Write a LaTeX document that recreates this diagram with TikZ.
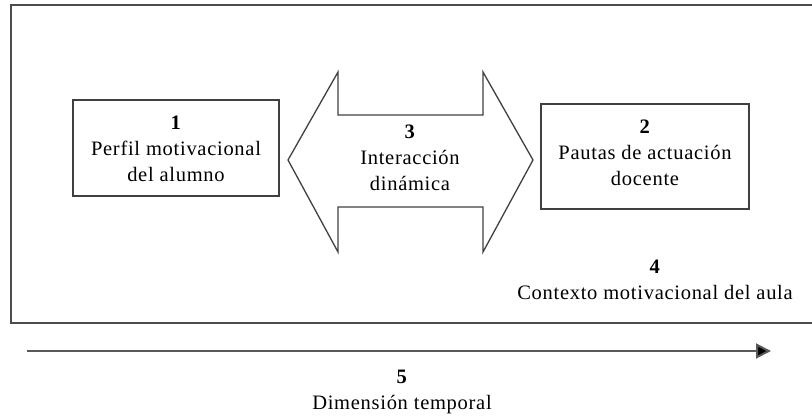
\documentclass[tikz,border=0pt]{standalone}
\usepackage{fontspec}
\setmainfont[LetterSpace=3.5]{Liberation Serif}
\usetikzlibrary{arrows.meta}
\begin{document}
\begin{tikzpicture}[x=1pt,y=-1pt,
  frameline/.style={draw=black!70, line width=2pt},
  boxline/.style={draw=black!75, line width=1.5pt},
  box/.style={boxline, rectangle, inner sep=0pt},
  txt/.style={align=center, inner sep=0pt, font=\fontsize{20.5}{26}\selectfont},
]
\useasboundingbox (0,0) rectangle (812,418);
% outer frame (open on the right)
\coordinate (fTR) at (814,5);
\coordinate (fTL) at (11,5);
\coordinate (fBL) at (11,323);
\coordinate (fBR) at (814,323);
\draw[frameline, line join=miter] (fTR) -- (fTL) -- (fBL) -- (fBR);
% box 1
\node[box, minimum width=206pt, minimum height=96pt] (b1) at (176,148) {};
\node[txt] (t1) at (176,149) {\textbf{1}\\Perfil motivacional\\del alumno};
% box 2
\node[box, minimum width=208pt, minimum height=105pt] (b2) at (645,156.5) {};
\node[txt] (t2) at (645,153) {\textbf{2}\\Pautas de actuación\\docente};
% double arrow
\draw[boxline, line join=miter, line width=1.3pt] (288,160) -- (338,72) -- (338,115) -- (483,115) -- (483,72) -- (533,160)
  -- (483,252) -- (483,207) -- (338,207) -- (338,252) -- cycle;
\node[txt] (t3) at (410,158) {\textbf{3}\\Interacción\\dinámica};
% context label
\node[txt] (t4) at (655,280) {\textbf{4}\\Contexto motivacional del aula};
% time arrow
\coordinate (aS) at (27,351);
\coordinate (aE) at (771,351);
\draw[draw=black!65, line width=2pt, -{Triangle[length=15pt,width=15pt,fill=black]}] (aS) -- (aE);
\node[txt] (t5) at (402,392) {\textbf{5}\\Dimensión temporal};
\end{tikzpicture}
\end{document}
